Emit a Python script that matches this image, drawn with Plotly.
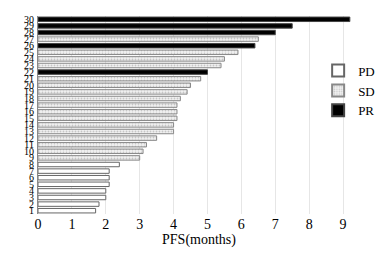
import plotly.graph_objects as go

patients = list(range(1, 31))
pfs = [1.7, 1.8, 2.0, 2.0, 2.1, 2.1, 2.1, 2.4, 3.0, 3.1,
       3.2, 3.5, 4.0, 4.0, 4.1, 4.1, 4.1, 4.2, 4.4, 4.5,
       4.8, 5.0, 5.4, 5.5, 5.9, 6.4, 6.5, 7.0, 7.5, 9.2]
response = ["PD"] * 8 + ["SD"] * 13 + ["PR", "SD", "SD", "SD", "PR", "SD", "PR", "PR", "PR"]
groups = ["PD", "SD", "PR"]
xticks = list(range(0, 10))

styles = {
    "PD": dict(color="white", line=dict(color="#666666", width=1)),
    "SD": dict(color="white", line=dict(color="#888888", width=1),
               pattern=dict(shape=".", fgcolor="#9a9a9a", bgcolor="#f2f2f2", size=3, solidity=0.3)),
    "PR": dict(color="black", line=dict(color="#444444", width=1)),
}

fig = go.Figure()
for g in groups:
    xs = [v for v, r in zip(pfs, response) if r == g]
    ys = [p for p, r in zip(patients, response) if r == g]
    fig.add_trace(go.Bar(x=xs, y=ys, orientation="h", name=g, marker=styles[g], width=0.68))

font = dict(family="Liberation Serif", color="black")
fig.update_layout(
    width=392, height=253,
    margin=dict(l=38, r=15, t=16, b=39),
    paper_bgcolor="white", plot_bgcolor="white",
    font=dict(size=12, **font),
    barmode="overlay",
    showlegend=True,
    legend=dict(x=0.87, y=0.80, xanchor="left", yanchor="top", bgcolor="rgba(0,0,0,0)",
                font=dict(size=13, **font), itemsizing="constant", tracegroupgap=0),
    xaxis=dict(range=[0, 9.5], tickvals=xticks, showgrid=True, gridcolor="#e6e6e6",
               zeroline=False, showline=False, ticks="", automargin=False,
               title=dict(text="PFS(months)", font=dict(size=14, **font), standoff=2),
               tickfont=dict(size=14, **font)),
    yaxis=dict(range=[0.5, 30.5], tickmode="array", tickvals=patients,
               ticktext=[str(p) for p in patients], showgrid=False, zeroline=False,
               showline=True, linecolor="#888888", ticks="", automargin=False,
               ticklabelstandoff=1, tickfont=dict(size=10, **font)),
)
fig.write_html("out.html", config={"displayModeBar": False},
               post_script="document.body.style.margin='0';document.body.style.overflow='hidden';")
